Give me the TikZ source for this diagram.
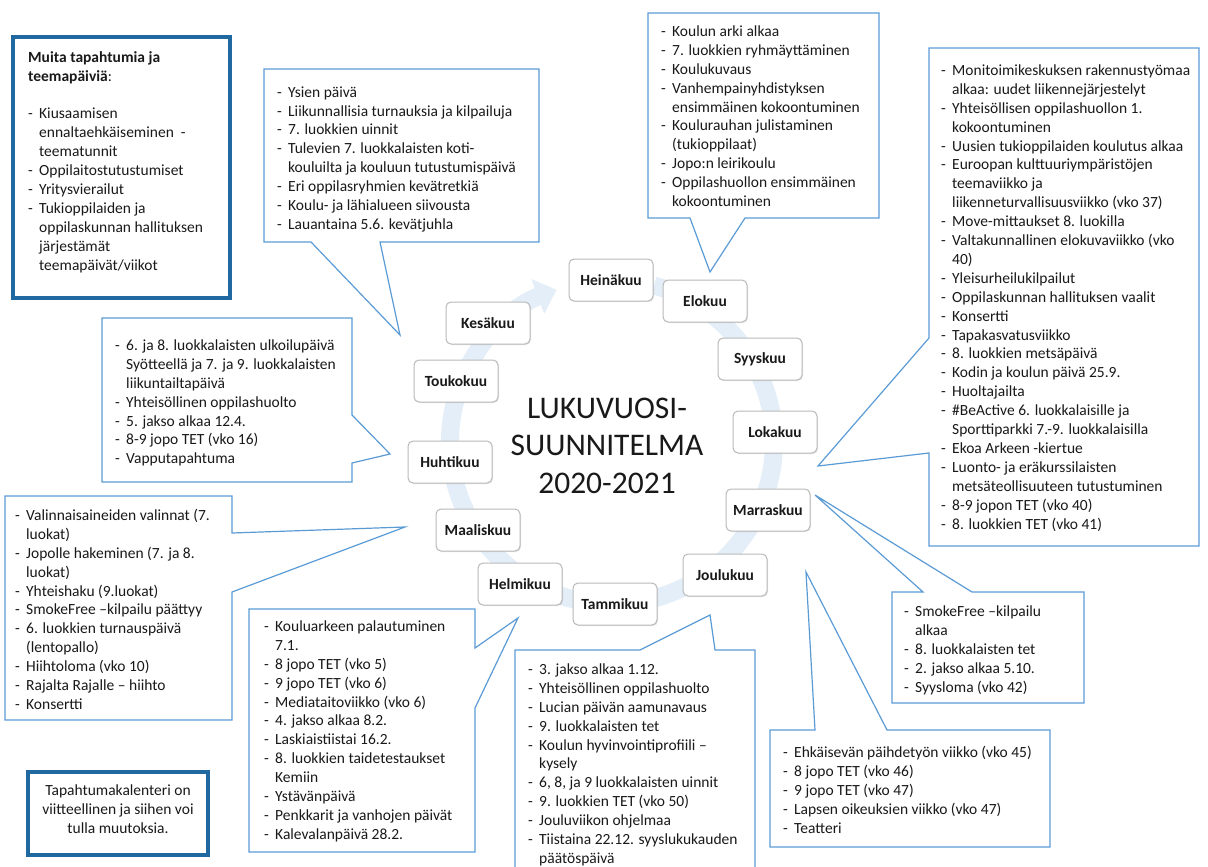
\documentclass[tikz,border=0pt]{standalone}
\usepackage{fontspec}
\setmainfont{Carlito}
\usetikzlibrary{arrows.meta,shadows}
\definecolor{ink}{RGB}{25,25,25}
\definecolor{calline}{RGB}{91,155,213}
\definecolor{boxline}{RGB}{32,105,160}
\definecolor{ringblue}{RGB}{228,238,248}
\definecolor{monthline}{RGB}{185,185,185}
\newcommand\dl{\makebox[11pt][l]{-}}
\newcommand\il{\hspace*{11pt}}

\begin{document}
\begin{tikzpicture}[x=1pt,y=-1pt,
  month/.style={draw=monthline,line width=1,rounded corners=5,fill=white,minimum width=84,minimum height=42,
    font=\fontsize{15.5}{18.9}\selectfont\bfseries,text=ink,drop shadow={shadow xshift=1pt,shadow yshift=-1pt,opacity=.2}},
  callout/.style={draw=calline,line width=1.2,fill=white},
  framebox/.style={draw=boxline,line width=3.5},
  list/.style={anchor=north west,align=left,inner sep=0pt,text=ink,font=\fontsize{15.5}{18.9}\selectfont}]
\clip (0,0) rectangle (1208,867);

% ring arrow
\draw[ringblue,line width=18,-{Triangle[width=36,length=20]}] (612,442) ++(285:162) arc[start angle=285,end angle=610,radius=162];

% months
\node[month] (heina) at (611,280) {Heinäkuu};
\node[month] (elo) at (705,301) {Elokuu};
\node[month] (syys) at (760,359) {Syyskuu};
\node[month] (loka) at (775,432) {Lokakuu};
\node[month] (marras) at (768,510) {Marraskuu};
\node[month] (joulu) at (725,575) {Joulukuu};
\node[month] (tammi) at (615,604) {Tammikuu};
\node[month] (helmi) at (520,584) {Helmikuu};
\node[month] (maalis) at (478,530) {Maaliskuu};
\node[month] (huhti) at (450,462) {Huhtikuu};
\node[month] (touko) at (456,381) {Toukokuu};
\node[month] (kesa) at (488,323) {Kesäkuu};

\node[align=center,anchor=north,inner sep=0pt,text=ink,font=\fontsize{31.5}{37.5}\selectfont] (title) at (607,392)
  {\strut LUKUVUOSI-\\SUUNNITELMA\\2020-2021};

% callout tips
\coordinate (tipkesa) at (400,335);
\coordinate (tipelo) at (710,272);
\coordinate (tipsyys) at (818,466);
\coordinate (tiptouko) at (390,454);
\coordinate (tipmaalis) at (405,527);
\coordinate (tiptammi) at (518,618);
\coordinate (tipjoulu) at (710,615);
\coordinate (tiploka) at (815,495);
\coordinate (tipmarras) at (806,572);

% callouts
\draw[callout] (264,69) -- (539,69) -- (539,242) -- (380,242) -- (tipkesa) -- (311,242) -- (264,242) -- cycle;
\draw[callout] (648,13) -- (879,13) -- (879,218) -- (745,218) -- (tipelo) -- (690,218) -- (648,218) -- cycle;
\draw[callout] (929,48) -- (1199,48) -- (1199,546) -- (929,546) -- (929,453) -- (tipsyys) -- (929,338) -- cycle;
\draw[callout] (102,318) -- (352,318) -- (352,415) -- (tiptouko) -- (352,463) -- (352,482) -- (102,482) -- cycle;
\draw[callout] (5,496) -- (232,496) -- (232,533) -- (tipmaalis) -- (232,592) -- (232,720) -- (5,720) -- cycle;
\draw[callout] (249,609) -- (475,609) -- (475,648) -- (tiptammi) -- (475,708) -- (475,852) -- (249,852) -- cycle;
\draw[callout] (515,650) -- (640,650) -- (tipjoulu) -- (715,650) -- (755,650) -- (755,880) -- (515,880) -- cycle;
\draw[callout] (892,592) -- (923,592) -- (tiploka) -- (972,592) -- (1084,592) -- (1084,703) -- (892,703) -- cycle;
\draw[callout] (770,730) -- (815,730) -- (tipmarras) -- (887,730) -- (1050,730) -- (1050,847) -- (770,847) -- cycle;

% framed boxes
\draw[framebox] (13,37) rectangle (230,298);
\draw[framebox] (28,772) rectangle (208,855);

% texts
\node[list] (muita) at (28,48.7) {\strut\textbf{Muita tapahtumia ja}\\
  \textbf{teemapäiviä}:\\[18.9pt]
  \dl Kiusaamisen\\
  \il ennaltaehkäiseminen\ \ -\\
  \il teematunnit\\
  \dl Oppilaitostutustumiset\\
  \dl Yritysvierailut\\
  \dl Tukioppilaiden ja\\
  \il oppilaskunnan hallituksen\\
  \il järjestämät\\
  \il teemapäivät/viikot};

\node[list] (kesatxt) at (277,83.7) {\strut\dl Ysien päivä\\
  \dl Liikunnallisia turnauksia ja kilpailuja\\
  \dl 7. luokkien uinnit\\
  \dl Tulevien 7. luokkalaisten koti-\\
  \il kouluilta ja kouluun tutustumispäivä\\
  \dl Eri oppilasryhmien kevätretkiä\\
  \dl Koulu- ja lähialueen siivousta\\
  \dl Lauantaina 5.6. kevätjuhla};

\node[list] (elotxt) at (661,23) {\strut\dl Koulun arki alkaa\\
  \dl 7. luokkien ryhmäyttäminen\\
  \dl Koulukuvaus\\
  \dl Vanhempainyhdistyksen\\
  \il ensimmäinen kokoontuminen\\
  \dl Koulurauhan julistaminen\\
  \il (tukioppilaat)\\
  \dl Jopo:n leirikoulu\\
  \dl Oppilashuollon ensimmäinen\\
  \il kokoontuminen};

\node[list] (syystxt) at (941,62) {\strut\dl Monitoimikeskuksen rakennustyömaa\\
  \il alkaa: uudet liikennejärjestelyt\\
  \dl Yhteisöllisen oppilashuollon 1.\\
  \il kokoontuminen\\
  \dl Uusien tukioppilaiden koulutus alkaa\\
  \dl Euroopan kulttuuriympäristöjen\\
  \il teemaviikko ja\\
  \il liikenneturvallisuusviikko (vko 37)\\
  \dl Move-mittaukset 8. luokilla\\
  \dl Valtakunnallinen elokuvaviikko (vko\\
  \il 40)\\
  \dl Yleisurheilukilpailut\\
  \dl Oppilaskunnan hallituksen vaalit\\
  \dl Konsertti\\
  \dl Tapakasvatusviikko\\
  \dl 8. luokkien metsäpäivä\\
  \dl Kodin ja koulun päivä 25.9.\\
  \dl Huoltajailta\\
  \dl \#BeActive 6. luokkalaisille ja\\
  \il Sporttiparkki 7.-9. luokkalaisilla\\
  \dl Ekoa Arkeen -kiertue\\
  \dl Luonto- ja eräkurssilaisten\\
  \il metsäteollisuuteen tutustuminen\\
  \dl 8-9 jopon TET (vko 40)\\
  \dl 8. luokkien TET (vko 41)};

\node[list] (toukotxt) at (115,337) {\strut\dl 6. ja 8. luokkalaisten ulkoilupäivä\\
  \il Syötteellä ja 7. ja 9. luokkalaisten\\
  \il liikuntailtapäivä\\
  \dl Yhteisöllinen oppilashuolto\\
  \dl 5. jakso alkaa 12.4.\\
  \dl 8-9 jopo TET (vko 16)\\
  \dl Vapputapahtuma};

\node[list] (maalistxt) at (15,507) {\strut\dl Valinnaisaineiden valinnat (7.\\
  \il luokat)\\
  \dl Jopolle hakeminen (7. ja 8.\\
  \il luokat)\\
  \dl Yhteishaku (9.luokat)\\
  \dl SmokeFree –kilpailu päättyy\\
  \dl 6. luokkien turnauspäivä\\
  \il (lentopallo)\\
  \dl Hiihtoloma (vko 10)\\
  \dl Rajalta Rajalle – hiihto\\
  \dl Konsertti};

\node[list] (tammitxt) at (264,618) {\strut\dl Kouluarkeen palautuminen\\
  \il 7.1.\\
  \dl 8 jopo TET (vko 5)\\
  \dl 9 jopo TET (vko 6)\\
  \dl Mediataitoviikko (vko 6)\\
  \dl 4. jakso alkaa 8.2.\\
  \dl Laskiaistiistai 16.2.\\
  \dl 8. luokkien taidetestaukset\\
  \il Kemiin\\
  \dl Ystävänpäivä\\
  \dl Penkkarit ja vanhojen päivät\\
  \dl Kalevalanpäivä 28.2.};

\node[list] (joulutxt) at (528,661) {\strut\dl 3. jakso alkaa 1.12.\\
  \dl Yhteisöllinen oppilashuolto\\
  \dl Lucian päivän aamunavaus\\
  \dl 9. luokkalaisten tet\\
  \dl Koulun hyvinvointiprofiili –\\
  \il kysely\\
  \dl 6, 8, ja 9 luokkalaisten uinnit\\
  \dl 9. luokkien TET (vko 50)\\
  \dl Jouluviikon ohjelmaa\\
  \dl Tiistaina 22.12. syyslukukauden\\
  \il päätöspäivä};

\node[list] (lokatxt) at (904,603) {\strut\dl SmokeFree –kilpailu\\
  \il alkaa\\
  \dl 8. luokkalaisten tet\\
  \dl 2. jakso alkaa 5.10.\\
  \dl Syysloma (vko 42)};

\node[list] (marrastxt) at (783,744) {\strut\dl Ehkäisevän päihdetyön viikko (vko 45)\\
  \dl 8 jopo TET (vko 46)\\
  \dl 9 jopo TET (vko 47)\\
  \dl Lapsen oikeuksien viikko (vko 47)\\
  \dl Teatteri};

\node[align=center,anchor=north,inner sep=0pt,text=ink,font=\fontsize{15.5}{18.9}\selectfont] (huom) at (118,782)
  {\strut Tapahtumakalenteri on\\viitteellinen ja siihen voi\\tulla muutoksia.};
\end{tikzpicture}
\end{document}
